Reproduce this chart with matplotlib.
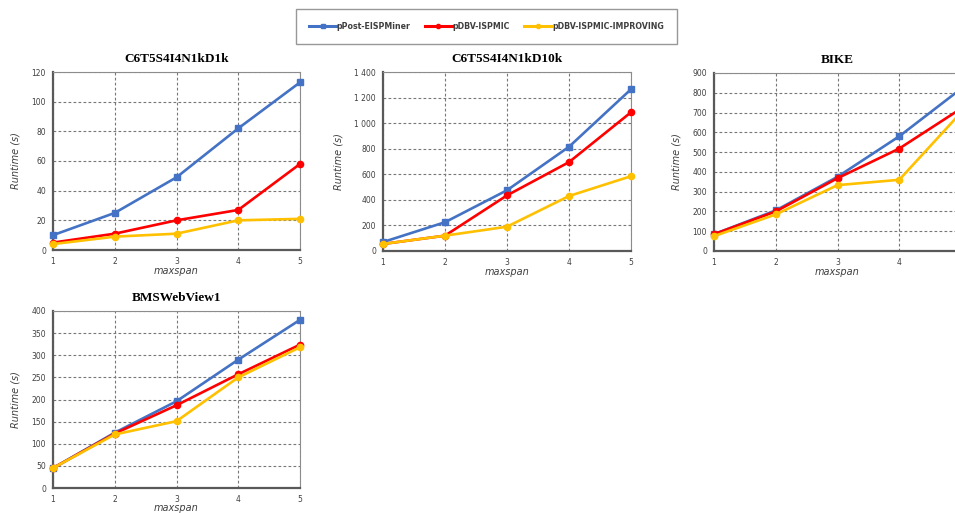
import matplotlib
matplotlib.use("Agg")
import matplotlib.pyplot as plt
from matplotlib.ticker import FuncFormatter
from matplotlib.lines import Line2D

maxspan = [1, 2, 3, 4, 5]
series_names = ["pPost-EISPMiner", "pDBV-ISPMIC", "pDBV-ISPMIC-IMPROVING"]
series_colors = ["#4472C4", "#FF0000", "#FFC000"]
series_markers = ["s", "o", "o"]

titles = ["C6T5S4I4N1kD1k", "C6T5S4I4N1kD10k", "BIKE", "BMSWebView1"]

d1k_post = [10, 25, 49, 82, 113]
d1k_dbv = [5, 11, 20, 27, 58]
d1k_imp = [4, 9, 11, 20, 21]

d10k_post = [70, 225, 475, 815, 1265]
d10k_dbv = [55, 120, 435, 695, 1085]
d10k_imp = [55, 120, 190, 430, 585]

bike_post = [85, 205, 375, 580, 820]
bike_dbv = [85, 200, 368, 518, 720]
bike_imp = [75, 185, 333, 360, 700]

bms_post = [45, 125, 196, 290, 380]
bms_dbv = [45, 123, 187, 257, 324]
bms_imp = [45, 121, 151, 250, 318]

panel_data = [
    (d1k_post, d1k_dbv, d1k_imp),
    (d10k_post, d10k_dbv, d10k_imp),
    (bike_post, bike_dbv, bike_imp),
    (bms_post, bms_dbv, bms_imp),
]
y_limits = [(0, 120, 20), (0, 1400, 200), (0, 900, 100), (0, 400, 50)]

W, H = 955, 513
fig = plt.figure(figsize=(W / 100, H / 100), dpi=100)

# axes boxes in pixels: left, top, right, bottom
boxes = [
    (53, 72, 300, 250),
    (383, 72, 631, 251),
    (714, 73, 961, 251),
    (53, 311, 300, 488),
]

def space_thousands(v, pos):
    return f"{int(v):,}".replace(",", " ")

grey_text = "#404040"

for i, (l, t, r, b) in enumerate(boxes):
    ax = fig.add_axes([l / W, 1 - b / H, (r - l) / W, (b - t) / H])
    for vals, c, m in zip(panel_data[i], series_colors, series_markers):
        ax.plot(maxspan, vals, color=c, marker=m, markersize=4.5, lw=1.9, clip_on=False, zorder=3)
    lo, hi, step = y_limits[i]
    ax.set_ylim(lo, hi)
    ax.set_xlim(1, 5)
    ax.set_yticks(range(lo, hi + 1, step))
    ax.set_xticks(maxspan)
    if i == 1:
        ax.yaxis.set_major_formatter(FuncFormatter(space_thousands))
    if i == 2:
        # the last tick sits past the figure edge
        ax.set_xticklabels(["1", "2", "3", "4", ""])
    ax.grid(True, color="#777777", linestyle=(0, (2.5, 2)), lw=0.8)
    ax.tick_params(labelsize=5.5, length=0, pad=5, colors=grey_text)
    for side in ("left", "bottom"):
        ax.spines[side].set_color("#595959")
        ax.spines[side].set_linewidth(1.6)
    for side in ("top", "right"):
        ax.spines[side].set_color("#8c8c8c")
        ax.spines[side].set_linewidth(0.8)
    ax.set_title(titles[i], fontfamily="Liberation Serif", fontweight="bold", fontsize=9.5, pad=7)
    ax.set_ylabel("Runtime (s)", fontstyle="italic", fontsize=7, color=grey_text, labelpad=8)
    ax.set_xlabel("maxspan", fontstyle="italic", fontsize=7, color=grey_text,
                  labelpad=0 if i < 3 else -1)

handles = [Line2D([0], [0], color=c, marker=m, markersize=3, lw=2.2) for c, m in zip(series_colors, series_markers)]
leg = fig.legend(handles, series_names, loc="center", bbox_to_anchor=(486.5 / W, 1 - 26.5 / H),
                 ncol=3, frameon=True, fancybox=False, handlelength=3.4,
                 columnspacing=1.8, borderpad=1.6, handletextpad=0.1,
                 prop={"weight": "bold", "size": 5.7})
leg.get_frame().set_edgecolor("#7f7f7f")
leg.get_frame().set_linewidth(1.0)
for txt in leg.get_texts():
    txt.set_color("#404040")

fig.savefig("out.png", dpi=100)
